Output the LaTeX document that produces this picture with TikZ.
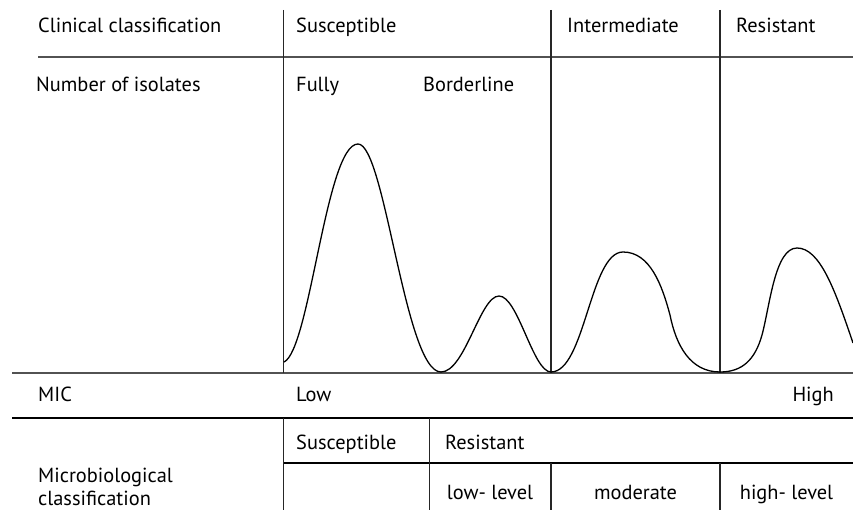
\documentclass[tikz,border=0pt]{standalone}
\usepackage{fontspec}
\setmainfont{PT Sans}
\begin{document}
\begin{tikzpicture}[x=1pt,y=-1pt,
  txt/.style={inner sep=0pt,font=\fontsize{20.4}{23}\selectfont},
  lbl/.style={txt,anchor=base west},
  clbl/.style={txt,anchor=base},
  rlbl/.style={txt,anchor=base east},
  rule/.style={draw=black!68,line width=2pt},
  thinrule/.style={draw=black,line width=1.2pt},
  vrule/.style={draw=black!85,line width=1.2pt},
  curve/.style={draw=black,line width=1.3pt}]
\useasboundingbox (0,0) rectangle (853,510);
% rules
\draw[rule] (38,57.5) -- (853,57.5);
\draw[rule] (12,372.5) -- (853,372.5);
\draw[thinrule] (12,418) -- (853,418);
\draw[thinrule] (283.5,463) -- (853,463);
\draw[vrule] (283.5,10) -- (283.5,372.5);
\draw[vrule] (551,10) -- (551,372.5);
\draw[vrule] (720,10) -- (720,372.5);
\draw[vrule] (283.5,418) -- (283.5,510);
\draw[vrule] (429.5,418) -- (429.5,510);
\draw[vrule] (551,463) -- (551,510);
\draw[vrule] (720,463) -- (720,510);
% distribution curve
\draw[curve] (284,362)
  .. controls (310,350) and (326,144) .. (358,144)
  .. controls (385,144) and (405,372) .. (441,372)
  .. controls (465,372) and (480,296) .. (499,296)
  .. controls (518,296) and (533,372) .. (551,372)
  .. controls (585,372) and (590,252) .. (623,252)
  .. controls (650,252) and (662,285) .. (670,315)
  .. controls (676,345) and (690,372) .. (720,372)
  .. controls (742,372) and (755,360) .. (762,335)
  .. controls (770,305) and (775,248) .. (797,248)
  .. controls (820,248) and (835,290) .. (853,343);
% texts
\node[lbl] (cc) at (38,33) {Clinical classification};
\node[lbl] (cs) at (296,33) {Susceptible};
\node[lbl] (ci) at (567,33) {Intermediate};
\node[lbl] (cr) at (736,33) {Resistant};
\node[lbl] (ni) at (36,92) {Number of isolates};
\node[lbl] (fu) at (296,92) {Fully};
\node[lbl] (bl) at (423,92) {Borderline};
\node[lbl] (mic) at (38,401.5) {MIC};
\node[lbl] (lo) at (296,401.5) {Low};
\node[rlbl] (hi) at (834,401.5) {High};
\node[lbl] (mb1) at (38,482) {Microbiological};
\node[lbl] (mb2) at (38,505) {classification};
\node[lbl] (ms) at (296,449.5) {Susceptible};
\node[lbl] (mr) at (445,449.5) {Resistant};
\node[clbl] (ll) at (490,499) {low- level};
\node[clbl] (md) at (635.5,499) {moderate};
\node[clbl] (hl) at (786.5,499) {high- level};
\end{tikzpicture}
\end{document}
